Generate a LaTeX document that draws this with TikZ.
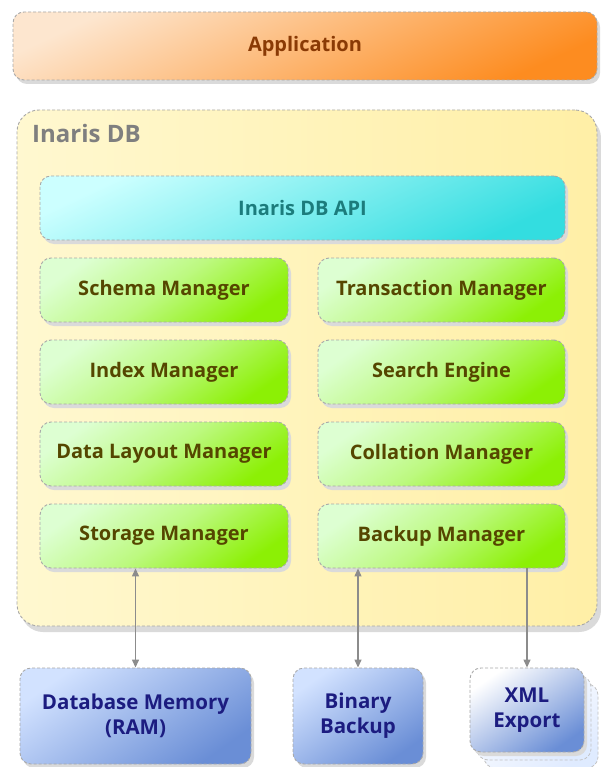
\documentclass[tikz,border=0pt]{standalone}
\usepackage{fontspec}
\setmainfont{Open Sans}
\usetikzlibrary{shadows,arrows.meta}
\definecolor{bordergray}{HTML}{A8A8A8}
\definecolor{shadowgray}{HTML}{DADADA}
\definecolor{appA}{HTML}{FDE6CF}
\definecolor{appB}{HTML}{FD8C20}
\definecolor{appText}{HTML}{8A3A05}
\definecolor{dbA}{HTML}{FFF8D0}
\definecolor{dbB}{HTML}{FFEFA6}
\definecolor{dbText}{HTML}{7F7F7F}
\definecolor{apiA}{HTML}{CCFFFF}
\definecolor{apiB}{HTML}{33DDE0}
\definecolor{apiText}{HTML}{1C7C7C}
\definecolor{grA}{HTML}{DDFFD2}
\definecolor{grB}{HTML}{8CF005}
\definecolor{grText}{HTML}{554600}
\definecolor{blA}{HTML}{D2E2FF}
\definecolor{blB}{HTML}{6A8ED6}
\definecolor{blText}{HTML}{1C1C80}
\definecolor{arrowgray}{HTML}{8C8C8C}
\tikzset{
  boxbase/.style={draw=bordergray, line width=0.9pt, dash pattern=on 3pt off 2pt,
    rounded corners=11pt, inner sep=0pt, align=center,
    font=\fontsize{20}{24}\selectfont\bfseries,
    drop shadow={shadow xshift=3pt, shadow yshift=-4pt, fill=shadowgray, opacity=1}},
  appbox/.style={boxbase, top color=appA, bottom color=appB, shading angle=25, text=appText},
  dbbox/.style={draw=bordergray, line width=0.9pt, dash pattern=on 3pt off 2pt,
    rounded corners=22pt, left color=dbA, right color=dbB,
    drop shadow={shadow xshift=4pt, shadow yshift=-6pt, fill=shadowgray, opacity=1}},
  apibox/.style={boxbase, top color=apiA, bottom color=apiB, shading angle=25, text=apiText},
  mgrbox/.style={boxbase, top color=grA, bottom color=grB, middle color=grA!60!grB,
    shading angle=35, text=grText, minimum width=248pt, minimum height=64pt},
  extbox/.style={boxbase, top color=blA, bottom color=blB, shading angle=35, text=blText,
    font=\fontsize{20.5}{25}\selectfont\bfseries},
  xmlbox/.style={boxbase, top color=white, bottom color=blB, shading angle=35, text=blText,
    font=\fontsize{20.5}{25}\selectfont\bfseries},
  xmlcopy/.style={draw=bordergray!70, line width=0.8pt, dash pattern=on 3pt off 2pt,
    rounded corners=11pt, top color=white, bottom color=blA!70!white, shading angle=35},
  link/.style={draw=arrowgray, line width=1.3pt},
  tip/.style={-{Triangle[length=8pt,width=7pt]}},
  tips/.style={{Triangle[length=8pt,width=7pt]}-{Triangle[length=8pt,width=7pt]}}
}
\begin{document}
\begin{tikzpicture}[x=1pt,y=-1pt]
\useasboundingbox[fill=white] (0,0) rectangle (600,767);

% Application
\node[appbox, minimum width=584pt, minimum height=68pt] (app) at (305,46) {Application};

% Container
\node[dbbox, minimum width=580pt, minimum height=516pt] (db) at (307,368) {};
\node[anchor=west, text=dbText, font=\fontsize{24}{28}\selectfont\bfseries, inner sep=0pt] (dbtitle) at (32,134) {Inaris DB};

% API
\node[apibox, minimum width=525pt, minimum height=64pt] (api) at (302.5,208) {Inaris DB API};

% Managers
\node[mgrbox] (schema) at (164,290) {Schema Manager};
\node[mgrbox, minimum width=247pt] (trans) at (441.5,290) {Transaction Manager};
\node[mgrbox] (index) at (164,372) {Index Manager};
\node[mgrbox, minimum width=247pt] (search) at (441.5,372) {Search Engine};
\node[mgrbox] (layout) at (164,454) {Data Layout Manager};
\node[mgrbox, minimum width=247pt] (coll) at (441.5,454) {Collation Manager};
\node[mgrbox] (storage) at (164,536) {Storage Manager};
\node[mgrbox, minimum width=247pt] (backup) at (441.5,536) {Backup Manager};

% External boxes
\node[extbox, minimum width=231pt, minimum height=96pt] (ram) at (135.5,716) {Database Memory\\(RAM)};
\node[extbox, minimum width=130pt, minimum height=96pt] (bin) at (358,716) {Binary\\Backup};
\node[xmlcopy, minimum width=114pt, minimum height=84pt] (xml2) at (541,726) {};
\node[xmlcopy, minimum width=114pt, minimum height=84pt] (xml1) at (534,718) {};
\node[xmlbox, minimum width=114pt, minimum height=84pt] (xml) at (527,710) {XML\\Export};

% Connectors
\draw[link, tips] (storage.south -| ram.north) -- (ram.north);
\draw[link, tips] (backup.south -| bin.north) -- (bin.north);
\draw[link, tip] (backup.south -| xml.north) -- (xml.north);
\end{tikzpicture}
\end{document}
